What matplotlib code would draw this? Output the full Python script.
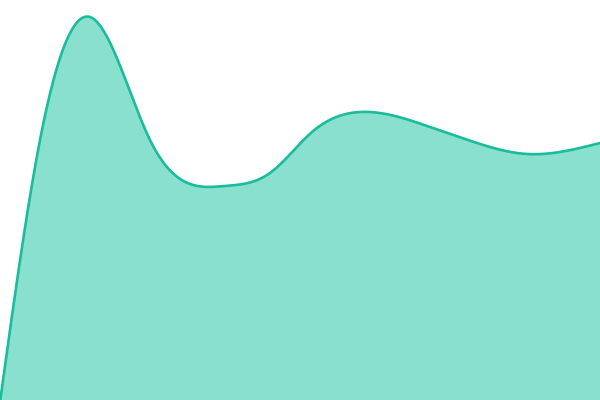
import numpy as np
import matplotlib
matplotlib.use("Agg")
import matplotlib.pyplot as plt

# knots (x position, height)
xs = [0, 40, 90, 150, 225, 270, 312, 360, 430, 465, 527, 600]
vals = [-2, 260, 383, 260, 214, 227, 268, 288, 273, 261, 246, 257]


def natural_spline(x, y, n=800):
    x = np.asarray(x, float)
    y = np.asarray(y, float)
    k = len(x)
    h = np.diff(x)
    A = np.zeros((k, k))
    b = np.zeros(k)
    A[0, 0] = 1
    A[-1, -1] = 1
    for i in range(1, k - 1):
        A[i, i - 1] = h[i - 1]
        A[i, i] = 2 * (h[i - 1] + h[i])
        A[i, i + 1] = h[i]
        b[i] = 6 * ((y[i + 1] - y[i]) / h[i] - (y[i] - y[i - 1]) / h[i - 1])
    M = np.linalg.solve(A, b)
    xx = np.linspace(x[0], x[-1], n)
    idx = np.clip(np.searchsorted(x, xx) - 1, 0, k - 2)
    a = x[idx + 1] - xx
    c = xx - x[idx]
    hi = h[idx]
    yy = (M[idx] * a**3 / (6 * hi) + M[idx + 1] * c**3 / (6 * hi)
          + (y[idx] / hi - M[idx] * hi / 6) * a + (y[idx + 1] / hi - M[idx + 1] * hi / 6) * c)
    return xx, yy


xx, yy = natural_spline(xs, vals)

fig = plt.figure(figsize=(6, 4), dpi=100)
ax = fig.add_axes([0, 0, 1, 1])
ax.fill_between(xx, yy, -10, color="#89e0cf", linewidth=0)
ax.plot(xx, yy, color="#1abc9c", linewidth=1.9)
ax.set_xlim(0, 600)
ax.set_ylim(0, 400)
ax.axis("off")
fig.savefig("out.png", dpi=100)
